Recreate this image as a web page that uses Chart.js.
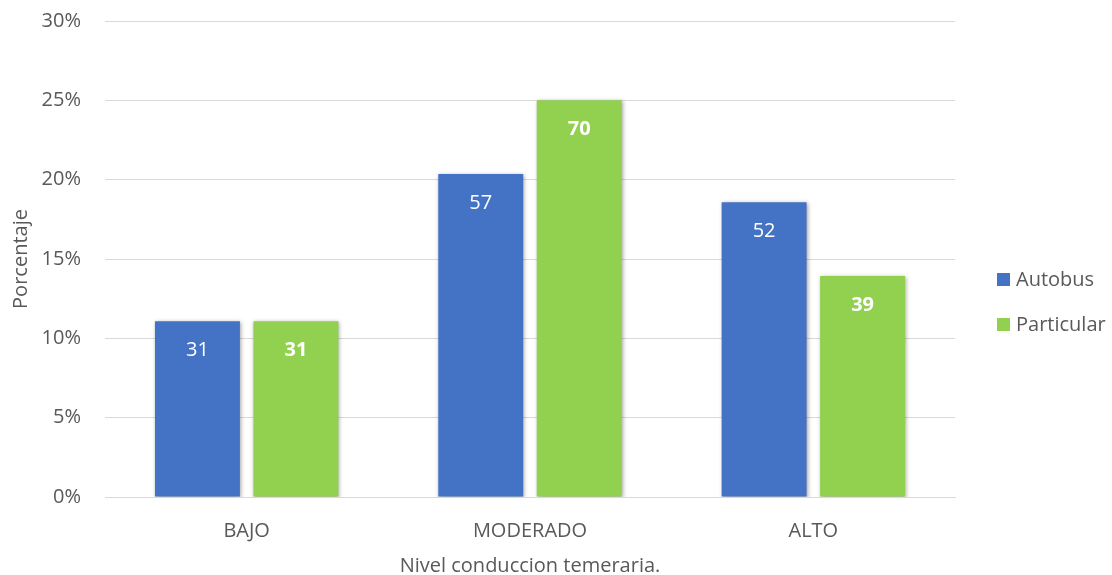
<!DOCTYPE html>
<html>
<head>
<meta charset="utf-8">
<script src="https://cdn.jsdelivr.net/npm/chart.js@4"></script>
<style>
  html, body { margin: 0; padding: 0; background: #ffffff; }
  #wrap { width: 1112px; height: 575px; position: relative; }
</style>
</head>
<body>
<div id="wrap"><canvas id="c" width="1112" height="575"></canvas></div>
<script>
// Conduction levels and respondents per vehicle type
const categories = ['BAJO', 'MODERADO', 'ALTO'];
const seriesNames = ['Autobus', 'Particular'];
const autobusPct = [11.07, 20.36, 18.57];
const particularPct = [11.07, 25.0, 13.93];
const autobusCount = [31, 57, 52];
const particularCount = [31, 70, 39];
const yTicks = [0, 5, 10, 15, 20, 25, 30];

const FONT = '"Open Sans", sans-serif';
const FSIZE = 20;
const TEXT = '#595959';
const colors = ['#4472C4', '#92D050'];
const countLabels = [autobusCount, particularCount];

// soft drop shadow beneath each bar
const barShadow = {
  id: 'barShadow',
  beforeDatasetDraw(chart) {
    const ctx = chart.ctx;
    ctx.save();
    ctx.shadowColor = 'rgba(0,0,0,0.35)';
    ctx.shadowBlur = 4;
    ctx.shadowOffsetX = 1;
    ctx.shadowOffsetY = 1;
  },
  afterDatasetDraw(chart) {
    chart.ctx.restore();
  }
};

// count labels inside the top of each bar
const countText = {
  id: 'countText',
  afterDatasetsDraw(chart) {
    const ctx = chart.ctx;
    ctx.save();
    ctx.textAlign = 'center';
    ctx.textBaseline = 'middle';
    ctx.fillStyle = '#ffffff';
    chart.data.datasets.forEach((ds, di) => {
      const meta = chart.getDatasetMeta(di);
      ctx.font = (di === 1 ? 'bold ' : '') + FSIZE + 'px ' + FONT;
      meta.data.forEach((bar, i) => {
        ctx.fillText(String(countLabels[di][i]), bar.x, bar.y + 29);
      });
    });
    ctx.restore();
  }
};

// legend at the right side
const sideLegend = {
  id: 'sideLegend',
  afterDraw(chart) {
    const ctx = chart.ctx;
    ctx.save();
    ctx.font = FSIZE + 'px ' + FONT;
    ctx.textBaseline = 'middle';
    ctx.textAlign = 'left';
    const x0 = 997;
    const ys = [279, 324];
    chart.data.datasets.forEach((ds, di) => {
      ctx.fillStyle = ds.backgroundColor;
      ctx.fillRect(x0, ys[di] - 6, 13, 13);
      ctx.fillStyle = TEXT;
      ctx.fillText(ds.label, x0 + 19, ys[di] + 1);
    });
    ctx.restore();
  }
};

new Chart(document.getElementById('c'), {
  type: 'bar',
  data: {
    labels: categories,
    datasets: [
      { label: seriesNames[0], data: autobusPct, backgroundColor: colors[0] },
      { label: seriesNames[1], data: particularPct, backgroundColor: colors[1] }
    ]
  },
  options: {
    responsive: false,
    animation: false,
    devicePixelRatio: 1,
    categoryPercentage: 0.695,
    barPercentage: 0.863,
    layout: { padding: { top: 21, right: 157, left: 9, bottom: 0 } },
    plugins: {
      legend: { display: false },
      tooltip: { enabled: false }
    },
    scales: {
      x: {
        grid: { display: false, drawTicks: false },
        border: { display: true, color: '#D9D9D9', width: 1 },
        ticks: { color: TEXT, font: { family: FONT, size: FSIZE }, padding: 22 },
        title: {
          display: true, text: 'Nivel conduccion temeraria.',
          color: TEXT, font: { family: FONT, size: FSIZE }, padding: { top: 7, bottom: -3 }
        },
        afterFit(scale) { scale.height = 78; scale.paddingLeft = 0; scale.paddingRight = 0; }
      },
      y: {
        min: 0, max: 30,
        afterBuildTicks(scale) { scale.ticks = yTicks.map(v => ({ value: v })); },
        grid: { color: '#D9D9D9', lineWidth: 1, drawTicks: false },
        border: { display: false },
        ticks: {
          color: TEXT, font: { family: FONT, size: FSIZE }, padding: 24,
          callback: v => v + '%'
        },
        title: {
          display: true, text: 'Porcentaje',
          color: TEXT, font: { family: FONT, size: FSIZE }, padding: { top: 0, bottom: 0 }
        },
        afterFit(scale) { scale.width = 96; scale.paddingTop = 0; scale.paddingBottom = 0; }
      }
    }
  },
  plugins: [barShadow, countText, sideLegend]
});
</script>
</body>
</html>
